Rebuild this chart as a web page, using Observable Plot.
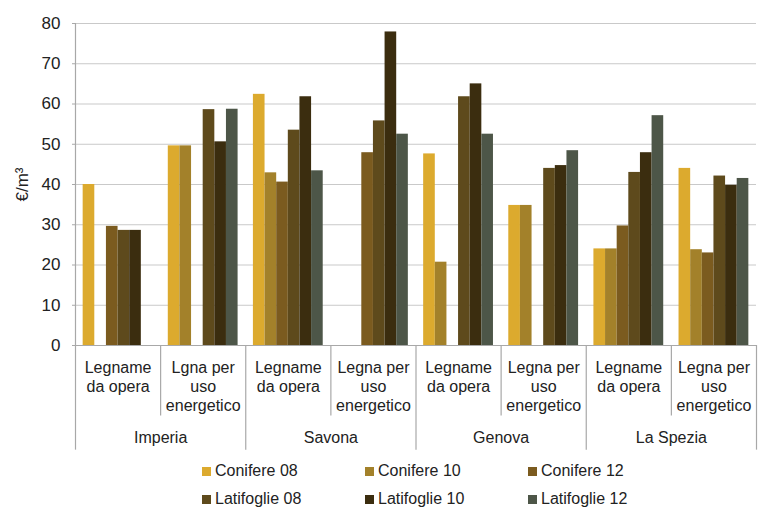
<!DOCTYPE html>
<html>
<head>
<meta charset="utf-8">
<script src="https://cdn.jsdelivr.net/npm/d3@7"></script>
<script src="https://cdn.jsdelivr.net/npm/@observablehq/plot@0.6"></script>
<style>
  html, body { margin: 0; padding: 0; background: #fff; }
  body { width: 758px; height: 514px; overflow: hidden; font-family: "Liberation Sans", Arial, sans-serif; }
  #legend { position: relative; width: 758px; height: 59px; }
  .item { position: absolute; display: flex; align-items: center; font-size: 16px; color: #222; white-space: nowrap; }
  .sw { width: 9px; height: 9px; margin-right: 4px; }
</style>
</head>
<body>
<div id="chart"></div>
<div id="legend"></div>
<script>
const regions = ["Imperia", "Savona", "Genova", "La Spezia"];
const subLabels = [
  "Legname\nda opera", "Lgna per\nuso\nenergetico",
  "Legname\nda opera", "Legna per\nuso\nenergetico",
  "Legname\nda opera", "Legna per\nuso\nenergetico",
  "Legname\nda opera", "Legna per\nuso\nenergetico"
];
const series = ["Conifere 08", "Conifere 10", "Conifere 12", "Latifoglie 08", "Latifoglie 10", "Latifoglie 12"];
const colors = ["#dcaa2e", "#a3812a", "#7b5b1f", "#5e4a1c", "#3b2d0f", "#4d5648"];
const yTicks = [0, 10, 20, 30, 40, 50, 60, 70, 80];

const conifere08   = [40,   49.6, 62.4, null, 47.6, 34.8, 24.0, 44.0];
const conifere10   = [null, 49.6, 42.9, null, 20.7, 34.8, 24.0, 23.8];
const conifere12   = [29.6, null, 40.6, 47.9, null, null, 29.7, 23.0];
const latifoglie08 = [28.6, 58.6, 53.5, 55.8, 61.8, 44.0, 43.0, 42.1];
const latifoglie10 = [28.6, 50.6, 61.8, 77.9, 65.0, 44.7, 47.9, 39.8];
const latifoglie12 = [null, 58.7, 43.4, 52.5, 52.5, 48.4, 57.1, 41.5];

const valuesBySeries = [conifere08, conifere10, conifere12, latifoglie08, latifoglie10, latifoglie12];

const data = [];
valuesBySeries.forEach((vals, j) => {
  vals.forEach((v, i) => {
    if (v != null) data.push({group: i, sIdx: j, series: series[j], value: v});
  });
});

const pad = 0.09, bw = (1 - 2 * pad) / 6;
const groupIdx = d3.range(subLabels.length);
const bounds = d3.range(subLabels.length + 1);

const chart = Plot.plot({
  width: 758,
  height: 455,
  marginLeft: 75,
  marginRight: 2,
  marginTop: 23,
  marginBottom: 110,
  style: {fontFamily: "'Liberation Sans', Arial, sans-serif", color: "#222", background: "#fff"},
  x: {domain: [0, subLabels.length], axis: null},
  y: {domain: [0, 80], axis: null},
  color: {domain: series, range: colors},
  marks: [
    Plot.gridY(yTicks.filter(d => d > 0), {stroke: "#c9c9c9", strokeOpacity: 1, strokeWidth: 1.2}),
    Plot.axisY(yTicks, {tickSize: 3, tickPadding: 12, fontSize: 17, stroke: "#a8a8a8",
      label: "€/m³", labelAnchor: "center", labelArrow: "none", labelOffset: 60}),
    Plot.ruleX([0], {y1: 0, y2: 80, stroke: "#a8a8a8", strokeWidth: 1.2}),
    Plot.rectY(data, {
      x1: d => d.group + pad + d.sIdx * bw,
      x2: d => d.group + pad + (d.sIdx + 1) * bw,
      y1: 0, y2: "value", fill: "series"
    }),
    Plot.ruleY([0], {stroke: "#a8a8a8", strokeWidth: 1.2}),
    Plot.ruleX(bounds, {x: d => d, y1: 0, y2: d => d % 2 === 0 ? -26 : -17.5, stroke: "#a8a8a8", strokeWidth: 1.2, clip: false}),
    Plot.text(groupIdx, {x: d => d + 0.5, y: 0, text: d => subLabels[d], dy: 14, lineAnchor: "top",
      lineHeight: 1.18, fontSize: 16, fill: "#222"}),
    Plot.text(d3.range(regions.length), {x: d => d * 2 + 1, y: 0, text: d => regions[d], dy: 92,
      lineAnchor: "middle", fontSize: 16, fill: "#222"})
  ]
});
document.getElementById("chart").appendChild(chart);

const legend = document.getElementById("legend");
series.forEach((s, j) => {
  const col = j % 3, row = Math.floor(j / 3);
  const it = document.createElement("div");
  it.className = "item";
  it.style.left = (202 + col * 163) + "px";
  it.style.top = (7 + row * 28) + "px";
  it.innerHTML = `<span class="sw" style="background:${colors[j]}"></span><span>${s}</span>`;
  legend.appendChild(it);
});
</script>
</body>
</html>
